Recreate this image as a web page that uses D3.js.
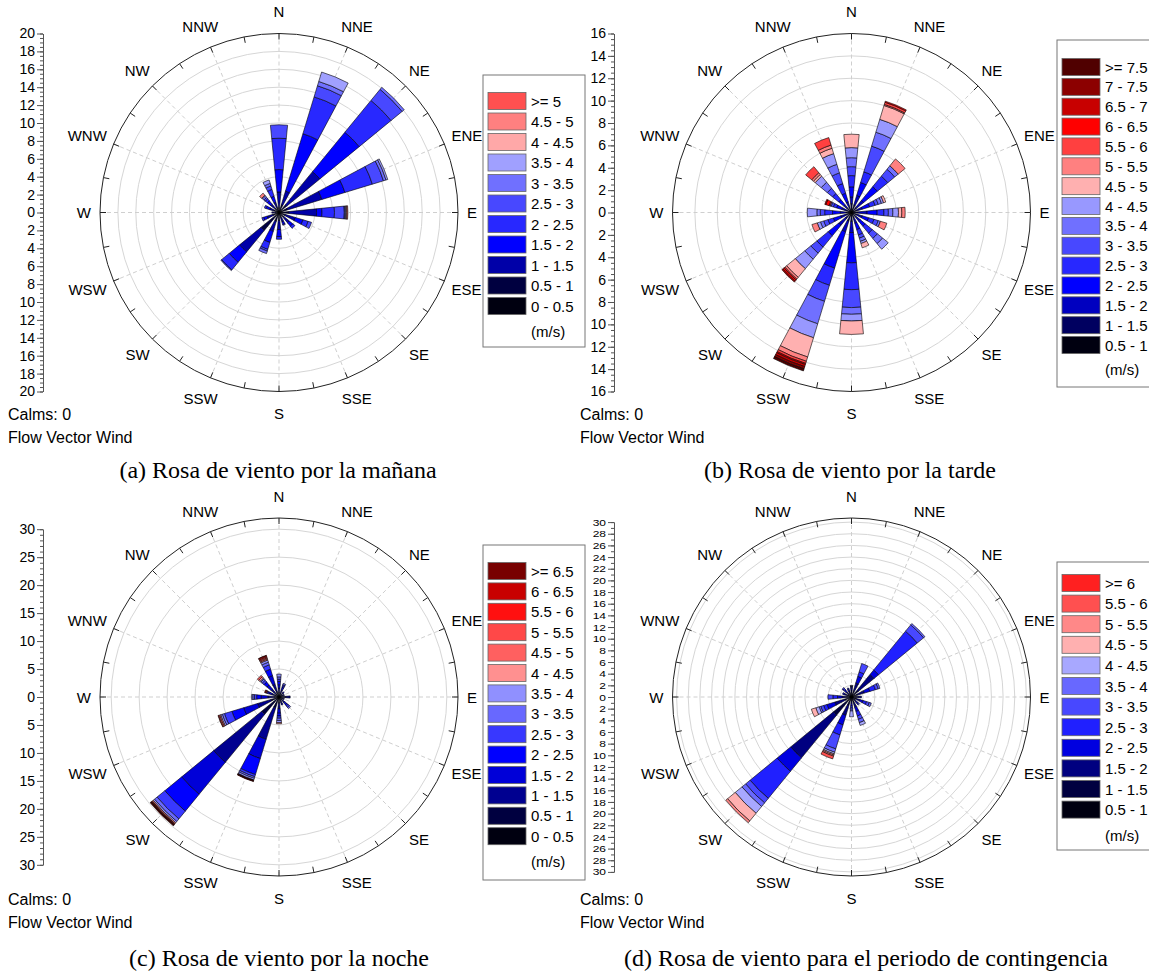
<!DOCTYPE html>
<html>
<head>
<meta charset="utf-8">
<script src="https://cdn.jsdelivr.net/npm/d3@7"></script>
<style>
  body { margin: 0; background: #fff; }
  svg text { font-family: "Liberation Sans", Arial, sans-serif; fill: #000; }
  svg text.cap { font-family: "Liberation Serif", "Times New Roman", serif; }
</style>
</head>
<body>
<div id="chart"></div>
<script>
// 16 compass sectors, clockwise from north
const dirs = ["N", "NNE", "NE", "ENE", "E", "ESE", "SE", "SSE", "S", "SSW", "SW", "WSW", "W", "WNW", "NW", "NNW"];

// (a) morning -- speed classes low -> high, frequency (%) per sector
const classesA = ["0 - 0.5", "0.5 - 1", "1 - 1.5", "1.5 - 2", "2 - 2.5", "2.5 - 3", "3 - 3.5", "3.5 - 4", "4 - 4.5", "4.5 - 5", ">= 5"];
const colorsA = ["#000010", "#000040", "#0000a8", "#0000ff", "#2828ff", "#4848ff", "#7070ff", "#a0a0ff", "#ffa8a8", "#ff8080", "#ff5050"];
const freqA = [
  [0.2, 0.3, 1.8, 2.5, 3.5, 1.5],
  [0.3, 0.6, 1.6, 6.7, 4.3, 1.3, 0.5, 1.1],
  [0.3, 0.8, 4.8, 5.7, 4.6, 1.6, 0.3],
  [0.3, 0.7, 4.0, 2.7, 3.2, 1.3, 0.3, 0.2],
  [0.3, 0.8, 3.1, 0.6, 1.4, 1.1, 0.1, 0.1, 0.1, 0.1],
  [0.2, 0.5, 1.2, 0.9, 0.6, 0.4],
  [0.2, 0.5, 0.8, 0.5, 0.3],
  [0.2, 0.4, 0.5, 0.3, 0.1],
  [0.3, 0.6, 1.0, 0.8, 0.3],
  [0.3, 0.7, 1.2, 1.3, 0.8, 0.2, 0.3],
  [0.6, 2.0, 3.1, 1.5, 1.1, 0.1],
  [0.2, 0.5, 0.7, 0.4, 0.2],
  [0.1, 0.3, 0.3, 0.1],
  [0.2, 0.4, 0.5, 0.4, 0.2],
  [0.2, 0.4, 0.6, 0.5, 0.3, 0.2, 0.2, 0.1, 0, 0.3],
  [0.2, 0.4, 0.6, 0.7, 0.8, 0.4, 0.3, 0.4]
];

// (b) afternoon
const classesB = ["0.5 - 1", "1 - 1.5", "1.5 - 2", "2 - 2.5", "2.5 - 3", "3 - 3.5", "3.5 - 4", "4 - 4.5", "4.5 - 5", "5 - 5.5", "5.5 - 6", "6 - 6.5", "6.5 - 7", "7 - 7.5", ">= 7.5"];
const colorsB = ["#000010", "#000060", "#0000c0", "#0000ff", "#2828ff", "#4848ff", "#7070ff", "#9898ff", "#ffb0b0", "#ff8080", "#ff4040", "#ff0000", "#c80000", "#8c0000", "#500000"];
const freqB = [
  [0.3, 0.5, 0.6, 0.9, 1.0, 0.8, 0.8, 0.9, 1.2],
  [0.3, 0.4, 0.9, 1.2, 1.0, 2.4, 1.3, 1.2, 1.3, 0.1, 0.2, 0.1],
  [0.2, 0.4, 0.8, 1.6, 1.2, 0.8, 0.4, 0, 0, 0.8],
  [0.2, 0.3, 0.5, 0.7, 0.5, 0.3, 0.3, 0.2, 0.2],
  [0.2, 0.4, 0.8, 0.9, 0.6, 0.4, 0.4, 0.5, 0.3, 0.3],
  [0.2, 0.3, 0.5, 0.6, 0.5, 0.4, 0.2, 0, 0, 0.6],
  [0.2, 0.3, 0.5, 0.6, 0.8, 0.6, 0.6, 0.65],
  [0.2, 0.3, 0.5, 0.6, 0.5, 0.3, 0.3, 0.2, 0.4],
  [0.3, 0.5, 1.0, 2.7, 2.4, 1.6, 0.6, 0.6, 1.2],
  [0.3, 0.5, 1.0, 3.4, 1.6, 1.5, 2.1, 1.3, 1.8, 0.4, 0.2, 0.1, 0.2, 0.2, 0.2],
  [0.3, 0.4, 0.8, 1.2, 1.3, 0.7, 0.7, 1.1, 1.0, 0.2, 0.1, 0.15, 0.1],
  [0.2, 0.3, 0.5, 0.7, 0.5, 0.4, 0.3, 0.3, 0, 0.5],
  [0.2, 0.3, 0.5, 0.7, 0.7, 0.4, 0.3, 0.85],
  [0.2, 0.3, 0.4, 0.5, 0.3, 0.2, 0.1, 0, 0, 0, 0.1, 0.3, 0.1],
  [0.2, 0.3, 0.4, 0.6, 0.7, 0.6, 0.7, 0.7, 0.2, 0.2, 0.7],
  [0.2, 0.3, 0.5, 0.8, 0.9, 1.0, 0.8, 1.0, 0.5, 0.3, 0.7]
];

// (c) night
const classesC = ["0 - 0.5", "0.5 - 1", "1 - 1.5", "1.5 - 2", "2 - 2.5", "2.5 - 3", "3 - 3.5", "3.5 - 4", "4 - 4.5", "4.5 - 5", "5 - 5.5", "5.5 - 6", "6 - 6.5", ">= 6.5"];
const colorsC = ["#000010", "#000040", "#000090", "#0000d8", "#0000ff", "#3838ff", "#6868ff", "#9090ff", "#ff9090", "#ff6060", "#ff4848", "#ff1010", "#c80000", "#780000"];
const freqC = [
  [0.2, 0.6, 0.8, 0.6, 0.6, 0.4, 0.4, 0.5],
  [0.2, 0.5, 0.6, 0.5, 0.3, 0.2, 0.25],
  [0.2, 0.4, 0.4, 0.2],
  [0.2, 0.4, 0.3, 0.1],
  [0.3, 0.9, 0.8],
  [0.2, 0.4, 0.3, 0.1],
  [0.2, 0.5, 0.6, 0.5, 0.3, 0.3, 0.3],
  [0.2, 0.4, 0.4, 0.3, 0.2],
  [0.3, 0.8, 1.0, 0.8, 0.5, 0.4, 0.4, 0.4, 0.2],
  [0.4, 1.6, 5.9, 3.6, 3.0, 0.4, 0.3, 0.3, 0.1, 0.05, 0.05, 0, 0.1],
  [0.5, 3.5, 11.1, 7.4, 3.9, 1.8, 0.6, 0.3, 0.2, 0.1, 0.1, 0.1, 0.05, 0.15],
  [0.3, 1.2, 2.5, 2.6, 2.2, 1.4, 0.4, 0.3, 0.2, 0.2, 0.1],
  [0.2, 0.6, 1.2, 1.2, 0.8, 0.4, 0.3, 0.2],
  [0.2, 0.5, 0.6, 0.5, 0.3, 0.2, 0, 0, 0, 0.1, 0.15, 0, 0.15],
  [0.2, 0.6, 1.0, 1.0, 0.7, 0.4, 0.3, 0.2, 0.3, 0.3],
  [0.3, 0.7, 1.4, 1.6, 1.2, 0.8, 0.5, 0.4, 0.2, 0.2, 0.2, 0.2, 0.1]
];

// (d) contingency period
const classesD = ["0.5 - 1", "1 - 1.5", "1.5 - 2", "2 - 2.5", "2.5 - 3", "3 - 3.5", "3.5 - 4", "4 - 4.5", "4.5 - 5", "5 - 5.5", "5.5 - 6", ">= 6"];
const colorsD = ["#000010", "#000040", "#000080", "#0000e0", "#2020ff", "#4848ff", "#6868ff", "#a8a8ff", "#ffb0b0", "#ff8888", "#ff5050", "#ff2020"];
const freqD = [
  [0.3, 0.5, 0.4, 0.3, 0.2, 0.1, 0.1, 0.1],
  [0.4, 0.6, 1.5, 1.2, 0.8, 1.5],
  [0.5, 1.0, 3.5, 1.0, 8.6, 1.4, 0.3],
  [0.4, 0.6, 1.3, 1.0, 1.0, 0.5, 0.3],
  [0.3, 0.5, 0.4, 0.3, 0.2],
  [0.3, 0.5, 0.7, 0.6, 0.6, 0.5, 0.35],
  [0.3, 0.4, 0.4, 0.3, 0.2, 0.2],
  [0.3, 0.6, 0.9, 0.8, 0.8, 0.6, 0.6, 0.5],
  [0.3, 0.4, 0.4, 0.4, 0.3, 0.3, 0.3, 1.0],
  [0.5, 1.0, 1.8, 1.7, 1.8, 2.5, 0.6, 0.3, 0.2, 0.2, 0.5],
  [1.0, 3.0, 9.5, 3.0, 6.0, 1.0, 0.8, 1.5, 1.7, 0.4],
  [0.4, 0.8, 1.8, 1.4, 0.6, 0.5, 0.3, 0.6, 0.8],
  [0.3, 0.5, 0.8, 0.8, 0.8, 0.85],
  [0.3, 0.4, 0.4, 0.3, 0.2],
  [0.3, 0.4, 0.5, 0.4, 0.3, 0.2],
  [0.3, 0.4, 0.4, 0.3, 0.2]
];

const captions = [
  "(a) Rosa de viento por la mañana",
  "(b) Rosa de viento por la tarde",
  "(c) Rosa de viento por la noche",
  "(d) Rosa de viento para el periodo de contingencia"
];

const width = 1149, height = 973;
const R = 179; // radius of the outer ring

const svg = d3.select("#chart")
  .append("svg")
  .attr("width", width)
  .attr("height", height);

svg.append("rect").attr("width", width).attr("height", height).attr("fill", "#fff");

function drawRose(p) {
  const r = d3.scaleLinear().domain([0, p.rMax]).range([0, R]);
  // band scale on the circle: each sector gets half of its 22.5 deg slot
  const ang = d3.scaleBand()
    .domain(dirs)
    .range([-Math.PI / 16, 2 * Math.PI - Math.PI / 16])
    .paddingInner(0.5)
    .paddingOuter(0.25);
  const mid = d => ang(d) + ang.bandwidth() / 2;

  const g = svg.append("g").attr("transform", `translate(${p.cx},${p.cy})`);

  // grid rings
  g.append("g").selectAll("circle")
    .data(d3.range(p.grid, p.aMax + 0.001, p.grid).filter(v => r(v) < R - 2))
    .enter().append("circle")
    .attr("r", d => r(d))
    .attr("fill", "none")
    .attr("stroke", "#d6d6d6")
    .attr("stroke-width", 1);

  // dashed spokes
  g.append("g").selectAll("line")
    .data(dirs)
    .enter().append("line")
    .attr("x1", 0).attr("y1", 0)
    .attr("x2", d => R * Math.sin(mid(d)))
    .attr("y2", d => -R * Math.cos(mid(d)))
    .attr("stroke", "#cfcfcf")
    .attr("stroke-dasharray", "4,3");

  // stacked petals
  const series = d3.stack()
    .keys(d3.range(p.classes.length))
    .value((d, k) => d[k] || 0)(p.freq);
  const arc = d3.arc();

  g.append("g").selectAll("g")
    .data(series)
    .enter().append("g")
    .attr("fill", (s, k) => p.colors[k])
    .selectAll("path")
    .data(s => s.map((v, i) => ({v, i})).filter(o => o.v[1] > o.v[0]))
    .enter().append("path")
    .attr("d", o => arc({
      innerRadius: r(o.v[0]),
      outerRadius: r(o.v[1]),
      startAngle: ang(dirs[o.i]),
      endAngle: ang(dirs[o.i]) + ang.bandwidth()
    }))
    .attr("stroke", "#000")
    .attr("stroke-width", 0.6)
    .attr("stroke-linejoin", "round");

  // outer ring and its ticks
  g.append("circle").attr("r", R).attr("fill", "none").attr("stroke", "#222").attr("stroke-width", 1);
  g.append("g").selectAll("line")
    .data(d3.range(0, 360, 11.25))
    .enter().append("line")
    .attr("x1", d => R * Math.sin(d * Math.PI / 180))
    .attr("y1", d => -R * Math.cos(d * Math.PI / 180))
    .attr("x2", d => (R - 6) * Math.sin(d * Math.PI / 180))
    .attr("y2", d => -(R - 6) * Math.cos(d * Math.PI / 180))
    .attr("stroke", "#222");

  // compass labels
  g.append("g").selectAll("text")
    .data(dirs)
    .enter().append("text")
    .attr("font-size", 15)
    .attr("text-anchor", "middle")
    .attr("dominant-baseline", "central")
    .text(d => d)
    .each(function (d) {
      const w = this.getComputedTextLength();
      const a = mid(d);
      const s = Math.sin(a), c = Math.cos(a);
      d3.select(this)
        .attr("x", (R + 9) * s + s * w / 2)
        .attr("y", -(R + 9) * c - c * 13);
    });

  // left axis, mirrored about the centre
  const y = d3.scaleLinear().domain([-p.aMax, p.aMax]).range([r(p.aMax), -r(p.aMax)]);
  const ax = svg.append("g").attr("transform", `translate(${p.ax},${p.cy})`);
  ax.append("g")
    .call(d3.axisLeft(y)
      .tickValues(d3.range(-p.aMax, p.aMax + 0.001, p.minor))
      .tickFormat("")
      .tickSize(3)
      .tickSizeOuter(0));
  ax.append("g")
    .call(d3.axisLeft(y)
      .tickValues(d3.range(-p.aMax, p.aMax + 0.001, p.step))
      .tickFormat(v => Math.abs(Math.round(v)))
      .tickSize(6)
      .tickSizeOuter(0)
      .tickPadding(2));
  ax.selectAll("path, line").attr("stroke", "#555");
  ax.selectAll("text")
    .attr("font-size", p.axisFont)
    .attr("font-family", null)
    .attr("transform", `scale(1,${p.axisSquash})`);

  // notes under the axis
  svg.append("text").attr("x", p.nx).attr("y", p.ny).attr("font-size", 16)
    .attr("dominant-baseline", "central").text("Calms: 0");
  svg.append("text").attr("x", p.nx).attr("y", p.ny + 23).attr("font-size", 16)
    .attr("dominant-baseline", "central").text("Flow Vector Wind");

  // legend
  const lg = svg.append("g").attr("transform", `translate(${p.lx},${p.ly})`);
  lg.append("rect")
    .attr("width", p.lw).attr("height", p.lh)
    .attr("fill", "#fff").attr("stroke", "#777");
  const items = p.classes.map((c, k) => ({c, col: p.colors[k]})).reverse();
  const row = lg.selectAll(".item")
    .data(items)
    .enter().append("g")
    .attr("transform", (d, i) => `translate(5,${p.l0 - p.ly + i * p.lstep})`);
  row.append("rect")
    .attr("y", -8.5).attr("width", 38).attr("height", 17)
    .attr("fill", d => d.col).attr("stroke", "#666").attr("stroke-width", 0.8);
  row.append("text")
    .attr("x", 43).attr("font-size", 15)
    .attr("dominant-baseline", "central")
    .text(d => d.c);
  lg.append("text")
    .attr("x", 48).attr("y", p.l0 - p.ly + items.length * p.lstep + 5)
    .attr("font-size", 15).attr("dominant-baseline", "central")
    .text("(m/s)");

  // caption
  svg.append("text").attr("class", "cap")
    .attr("x", p.capx).attr("y", p.capy)
    .attr("font-size", 24).attr("text-anchor", "middle")
    .attr("dominant-baseline", "central")
    .text(p.caption);
}

drawRose({classes: classesA, colors: colorsA, freq: freqA, caption: captions[0],
  cx: 279, cy: 212.5, rMax: 20, aMax: 20, grid: 2, step: 2, minor: 0.5, ax: 43, axisFont: 14, axisSquash: 1,
  nx: 8, ny: 414, lx: 483, ly: 75, lw: 102, lh: 272, l0: 101, lstep: 20.5, capx: 278, capy: 470});

drawRose({classes: classesB, colors: colorsB, freq: freqB, caption: captions[1],
  cx: 851.5, cy: 212.5, rMax: 16, aMax: 16, grid: 2, step: 2, minor: 0.5, ax: 614, axisFont: 14, axisSquash: 1,
  nx: 580, ny: 414, lx: 1057, ly: 40, lw: 100, lh: 347, l0: 67, lstep: 19.86, capx: 850, capy: 470});

drawRose({classes: classesC, colors: colorsC, freq: freqC, caption: captions[2],
  cx: 279, cy: 697, rMax: 32, aMax: 30, grid: 5, step: 5, minor: 1, ax: 43, axisFont: 14, axisSquash: 1,
  nx: 8, ny: 899, lx: 483, ly: 545, lw: 102, lh: 335, l0: 571, lstep: 20.4, capx: 279, capy: 958});

drawRose({classes: classesD, colors: colorsD, freq: freqD, caption: captions[3],
  cx: 851.5, cy: 697, rMax: 30.7, aMax: 30, grid: 2, step: 2, minor: 1, ax: 614, axisFont: 12, axisSquash: 0.8,
  nx: 580, ny: 899, lx: 1057, ly: 562, lw: 100, lh: 288, l0: 583, lstep: 20.6, capx: 866, capy: 958});
</script>
</body>
</html>
